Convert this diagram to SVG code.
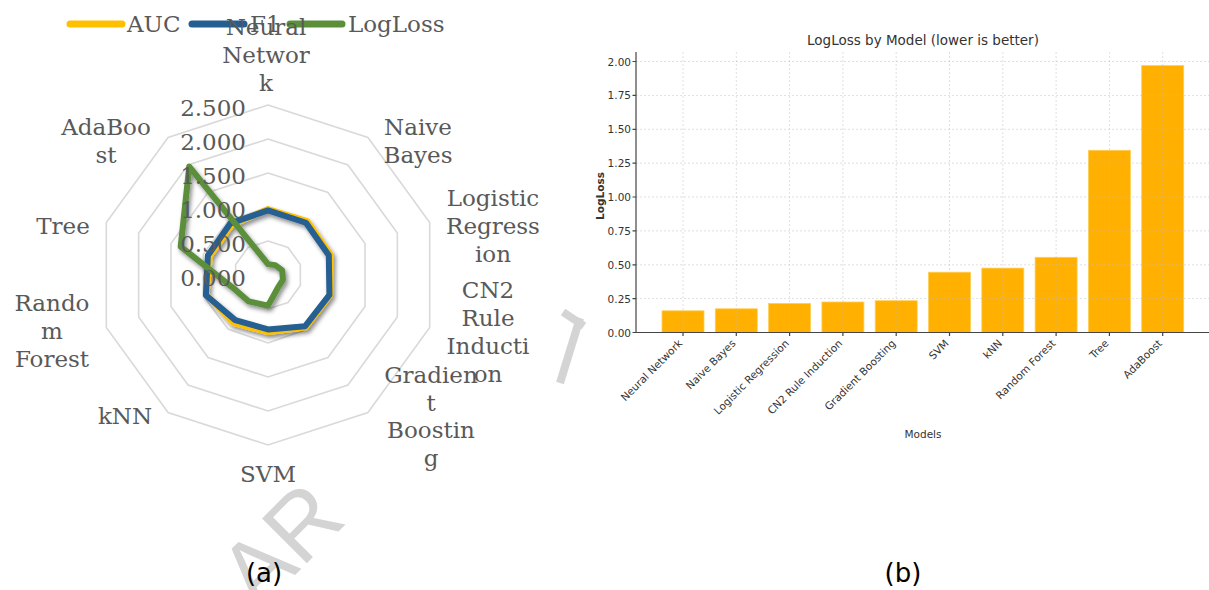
<svg xmlns="http://www.w3.org/2000/svg" width="1209" height="590" viewBox="0 0 1209 590">
<defs>
<style>
.rl{font-family:"DejaVu Serif","Liberation Serif",serif;font-size:23px;fill:#595959}
.rs{font-family:"DejaVu Serif","Liberation Serif",serif;font-size:23px;fill:#595959;text-anchor:end}
.lab{text-anchor:middle}
.ring{fill:none;stroke:#d9d9d9;stroke-width:1.6}
.ser{fill:none;stroke-width:6;stroke-linejoin:round}
.bt{font-family:"DejaVu Sans","Liberation Sans",sans-serif;fill:#333}
.tk{font-family:"DejaVu Sans","Liberation Sans",sans-serif;font-size:10.5px;fill:#333}
.grid{stroke:#bdbdbd;stroke-width:0.8;stroke-dasharray:2 2;opacity:0.6}
.bar{fill:#FFB000;stroke:#FFCF55;stroke-width:0.8}
.cap{font-family:"DejaVu Sans","Liberation Sans",sans-serif;font-size:26px;fill:#000;text-anchor:middle}
.wm{fill:#d4d4d4}
</style>
<filter id="sh" x="-20%" y="-20%" width="140%" height="140%">
<feDropShadow dx="2" dy="3" stdDeviation="2.2" flood-color="#000" flood-opacity="0.45"/>
</filter>
</defs>
<rect width="1209" height="590" fill="#fff"/>

<g id="watermark">
<text x="0" y="0" transform="translate(258,612) rotate(-45)" style="font-family:'Liberation Sans',sans-serif;font-size:92px" class="wm">AR</text>
<line x1="560" y1="383" x2="580" y2="318" stroke="#d4d4d4" stroke-width="8"/>
<line x1="563" y1="312" x2="584" y2="326" stroke="#d4d4d4" stroke-width="8"/>
</g>

<g id="radar-chart">
<g id="radar-grid">
<polygon class="ring" points="268,241 287.99,247.49 300.34,264.49 300.34,285.51 287.99,302.51 268,309 248.01,302.51 235.66,285.51 235.66,264.49 248.01,247.49"/>
<polygon class="ring" points="268,207 307.97,220.99 332.67,253.99 332.67,296.01 307.97,329.01 268,343 228.03,329.01 203.33,296.01 203.33,253.99 228.03,220.99"/>
<polygon class="ring" points="268,173 327.96,192.48 365.01,243.48 365.01,306.52 327.96,357.52 268,377 208.04,357.52 170.99,306.52 170.99,243.48 208.04,192.48"/>
<polygon class="ring" points="268,139 347.94,164.98 397.35,232.98 397.35,317.02 347.94,385.02 268,411 188.06,385.02 138.65,317.02 138.65,232.98 188.06,164.98"/>
<polygon class="ring" points="268,105 367.93,137.47 429.69,222.47 429.69,327.53 367.93,412.53 268,445 168.07,412.53 106.31,327.53 106.31,222.47 168.07,137.47"/>
</g>
<g id="radar-series" filter="url(#sh)">
<polygon id="series-auc" class="ser" stroke="#FFC000" points="268,209.04 307.17,221.09 330.73,254.62 330.09,295.17 305.97,327.26 268,332.12 233.23,322.86 206.56,294.96 209.79,256.09 231.63,224.94"/>
<polygon id="series-f1" class="ser" stroke="#255E91" points="268,210.4 305.97,222.74 328.79,255.25 329.44,294.96 305.17,326.16 268,329.4 235.22,320.11 205.91,295.17 207.85,255.46 230.43,223.29"/>
<polygon id="series-logloss" class="ser" stroke="#5B8F3A" points="268,264.12 275.19,265.1 282.23,270.38 282.88,279.83 277.59,288.2 268,305.6 248.81,301.41 231.78,286.77 180.69,246.63 189.26,166.63"/>
</g>
<g id="radar-scale">
<text class="rs" x="246" y="115.5">2.500</text>
<text class="rs" x="246" y="149.5">2.000</text>
<text class="rs" x="246" y="183.5">1.500</text>
<text class="rs" x="246" y="217.5">1.000</text>
<text class="rs" x="246" y="251.5">0.500</text>
<text class="rs" x="246" y="285.5">0.000</text>
</g>
<g id="radar-legend">
<line x1="70" y1="24" x2="122" y2="24" stroke="#FFC000" stroke-width="7" stroke-linecap="round"/>
<text class="rl" x="127" y="32">AUC</text>
<line x1="192" y1="24" x2="244" y2="24" stroke="#255E91" stroke-width="7" stroke-linecap="round"/>
<text class="rl" x="250" y="32">F1</text>
<line x1="290" y1="24" x2="342" y2="24" stroke="#5B8F3A" stroke-width="7" stroke-linecap="round"/>
<text class="rl" x="348" y="32">LogLoss</text>
</g>
<g id="radar-axis-labels" class="rl lab">
<text x="266" y="35">Neural</text><text x="266" y="63">Networ</text><text x="266" y="91">k</text>
<text x="418" y="135">Naive</text><text x="418" y="163">Bayes</text>
<text x="493" y="206">Logistic</text><text x="493" y="234">Regress</text><text x="493" y="262">ion</text>
<text x="488" y="298">CN2</text><text x="488" y="326">Rule</text><text x="488" y="354">Inducti</text><text x="488" y="382">on</text>
<text x="431" y="383">Gradien</text><text x="431" y="411">t</text><text x="431" y="438">Boostin</text><text x="431" y="466">g</text>
<text x="268" y="482">SVM</text>
<text x="125" y="424">kNN</text>
<text x="52" y="311">Rando</text><text x="52" y="339">m</text><text x="52" y="367">Forest</text>
<text x="63" y="234">Tree</text>
<text x="106" y="135">AdaBoo</text><text x="106" y="163">st</text>
</g>
</g>

<g id="bar-chart">
<text class="bt" x="923" y="45" text-anchor="middle" font-size="13.5">LogLoss by Model (lower is better)</text>
<g id="bars">
<rect class="bar" x="662" y="310.8" width="42" height="21.7"/>
<rect class="bar" x="715.3" y="308.8" width="42" height="23.7"/>
<rect class="bar" x="768.6" y="303.4" width="42" height="29.1"/>
<rect class="bar" x="821.9" y="302" width="42" height="30.5"/>
<rect class="bar" x="875.2" y="300.7" width="42" height="31.8"/>
<rect class="bar" x="928.5" y="272.2" width="42" height="60.3"/>
<rect class="bar" x="981.8" y="268.1" width="42" height="64.4"/>
<rect class="bar" x="1035.1" y="257.3" width="42" height="75.2"/>
<rect class="bar" x="1088.4" y="150.3" width="42" height="182.2"/>
<rect class="bar" x="1141.7" y="65.6" width="42" height="266.9"/>
</g>
<g id="grid">
<line class="grid" x1="636" y1="61.5" x2="1209" y2="61.5"/>
<line class="grid" x1="636" y1="95.4" x2="1209" y2="95.4"/>
<line class="grid" x1="636" y1="129.3" x2="1209" y2="129.3"/>
<line class="grid" x1="636" y1="163.1" x2="1209" y2="163.1"/>
<line class="grid" x1="636" y1="197" x2="1209" y2="197"/>
<line class="grid" x1="636" y1="230.9" x2="1209" y2="230.9"/>
<line class="grid" x1="636" y1="264.8" x2="1209" y2="264.8"/>
<line class="grid" x1="636" y1="298.6" x2="1209" y2="298.6"/>
<line class="grid" x1="683" y1="52" x2="683" y2="332.5"/>
<line class="grid" x1="736.3" y1="52" x2="736.3" y2="332.5"/>
<line class="grid" x1="789.6" y1="52" x2="789.6" y2="332.5"/>
<line class="grid" x1="842.9" y1="52" x2="842.9" y2="332.5"/>
<line class="grid" x1="896.2" y1="52" x2="896.2" y2="332.5"/>
<line class="grid" x1="949.5" y1="52" x2="949.5" y2="332.5"/>
<line class="grid" x1="1002.8" y1="52" x2="1002.8" y2="332.5"/>
<line class="grid" x1="1056.1" y1="52" x2="1056.1" y2="332.5"/>
<line class="grid" x1="1109.4" y1="52" x2="1109.4" y2="332.5"/>
<line class="grid" x1="1162.7" y1="52" x2="1162.7" y2="332.5"/>
</g>
<g id="axes" stroke="#444" stroke-width="1.2">
<line x1="636" y1="52" x2="636" y2="333"/>
<line x1="635.4" y1="332.5" x2="1209" y2="332.5"/>
<path d="M632.5 61.5H636M632.5 95.4H636M632.5 129.3H636M632.5 163.1H636M632.5 197H636M632.5 230.9H636M632.5 264.8H636M632.5 298.6H636M632.5 332.5H636"/>
<path d="M683 332.5V336M736.3 332.5V336M789.6 332.5V336M842.9 332.5V336M896.2 332.5V336M949.5 332.5V336M1002.8 332.5V336M1056.1 332.5V336M1109.4 332.5V336M1162.7 332.5V336"/>
</g>
<g id="y-ticks" class="tk" text-anchor="end">
<text x="631" y="65.5">2.00</text>
<text x="631" y="99.4">1.75</text>
<text x="631" y="133.3">1.50</text>
<text x="631" y="167.1">1.25</text>
<text x="631" y="201">1.00</text>
<text x="631" y="234.9">0.75</text>
<text x="631" y="268.8">0.50</text>
<text x="631" y="302.6">0.25</text>
<text x="631" y="336.5">0.00</text>
</g>
<g id="x-ticks" class="tk" text-anchor="end">
<text transform="translate(683,344) rotate(-45)">Neural Network</text>
<text transform="translate(736.3,344) rotate(-45)">Naive Bayes</text>
<text transform="translate(789.6,344) rotate(-45)">Logistic Regression</text>
<text transform="translate(842.9,344) rotate(-45)">CN2 Rule Induction</text>
<text transform="translate(896.2,344) rotate(-45)">Gradient Boosting</text>
<text transform="translate(949.5,344) rotate(-45)">SVM</text>
<text transform="translate(1002.8,344) rotate(-45)">kNN</text>
<text transform="translate(1056.1,344) rotate(-45)">Random Forest</text>
<text transform="translate(1109.4,344) rotate(-45)">Tree</text>
<text transform="translate(1162.7,344) rotate(-45)">AdaBoost</text>
</g>
<text class="bt" x="923" y="438" text-anchor="middle" font-size="10.5">Models</text>
<text class="bt" transform="translate(604,196) rotate(-90)" text-anchor="middle" font-size="10.5" font-weight="bold">LogLoss</text>
</g>

<g id="captions">
<text class="cap" x="264" y="582">(a)</text>
<text class="cap" x="903" y="582">(b)</text>
</g>
</svg>
